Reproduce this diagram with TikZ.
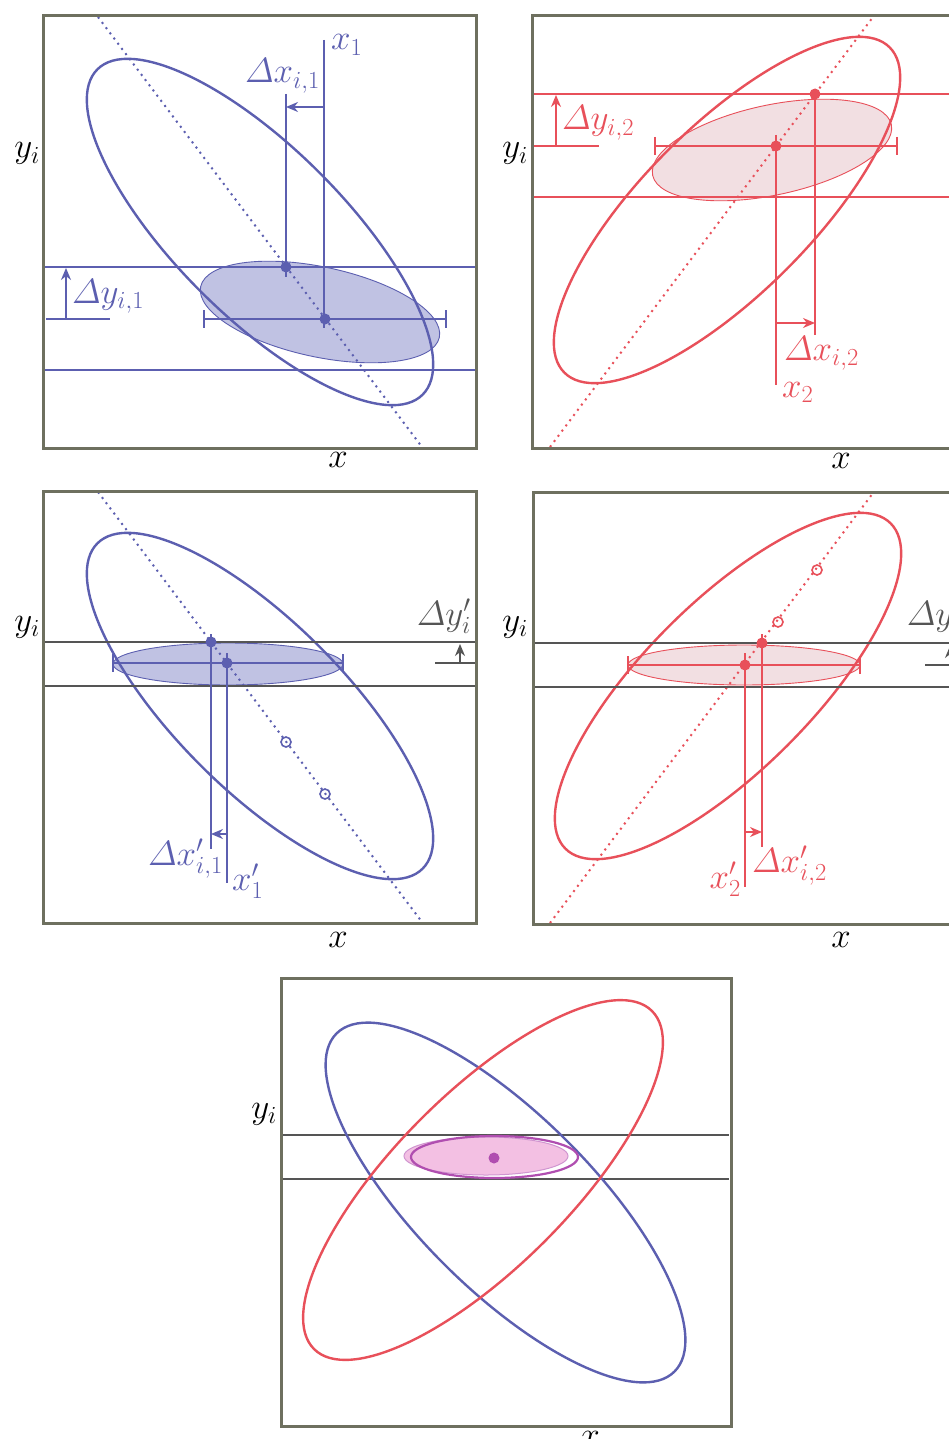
\RequirePackage{fix-cm}
\documentclass[tikz,border=0pt]{standalone}
\usepackage{amsmath}
\usetikzlibrary{arrows.meta}
\definecolor{cblue}{RGB}{92,95,176}
\definecolor{cbluefill}{RGB}{192,194,227}
\definecolor{cred}{RGB}{232,80,90}
\definecolor{credfill}{RGB}{242,223,226}
\definecolor{cframe}{RGB}{110,112,95}
\definecolor{cgrey}{RGB}{85,85,85}
\definecolor{cpurple}{RGB}{176,78,176}
\definecolor{cpurplefill}{RGB}{243,192,227}
\tikzset{
 frame/.style={draw=cframe, line width=3pt},
 bigell/.style={line width=2.4pt},
 band/.style={line width=2.2pt},
 thinline/.style={line width=1.6pt},
 dotline/.style={line width=2pt, dash pattern=on 2pt off 4.5pt},
 arr/.style={line width=1.6pt, -{Stealth[length=12pt,width=10pt]}},
 lbl/.style={inner sep=0pt, font=\fontsize{35}{42}\selectfont},
 errbar/.style={line width=2.2pt},
 smallell/.style={line width=0.9pt},
}
\begin{document}
\begin{tikzpicture}[x=1pt,y=-1pt]
\useasboundingbox (0,0) rectangle (949,1439);
\fill[white] (0,0) rectangle (949,1439);

% ================= Panel 1 (top left, blue) =================
\coordinate (c1) at (260,232);
\filldraw[fill=cbluefill, draw=cblue, smallell, rotate around={-12:(320,312)}] (320,312) ellipse [x radius=122pt, y radius=45pt];
\draw[cblue, bigell, rotate around={-45:(c1)}] (c1) ellipse [x radius=230pt, y radius=84pt];
\draw[cblue, dotline] (98,17) -- (422,447);
\draw[cblue, band] (45,267) -- (475,267);
\draw[cblue, band] (45,370) -- (475,370);
\coordinate (e1l) at (204,319); \coordinate (e1r) at (446,319);
\draw[cblue, errbar] (e1l) -- (e1r);
\draw[cblue, errbar] (204,310) -- (204,328);
\draw[cblue, errbar] (446,310) -- (446,328);
\coordinate (v1a) at (324,40); \coordinate (v1b) at (324,328);
\draw[cblue, thinline] (v1a) -- (v1b);
\coordinate (v1c) at (286,94); \coordinate (v1d) at (286,277);
\draw[cblue, thinline] (v1c) -- (v1d);
\coordinate (a1s) at (324,107); \coordinate (a1e) at (286,107);
\draw[cblue, arr] (a1s) -- (a1e);
\fill[cblue] (286,267) circle (5.5pt);
\fill[cblue] (325,319) circle (5.5pt);
\coordinate (dy1s) at (66,319); \coordinate (dy1e) at (66,268);
\draw[cblue, arr] (dy1s) -- (dy1e);
\draw[cblue, thinline] (46,319) -- (110,319);
\draw[frame] (43,16) rectangle (476,448);
\node[lbl, text=cblue, anchor=base west] (lx1) at (331,50) {$x_1$};
\node[lbl, text=cblue, anchor=base west] (ldx1) at (245,83) {$\varDelta x_{i,1}$};
\node[lbl, text=cblue, anchor=base west] (ldy1) at (72,303) {$\varDelta y_{i,1}$};
\node[lbl, anchor=base east] (ly1) at (40,158) {$y_i$};
\node[lbl, anchor=base] (lxa1) at (338,467) {$x$};

% ================= Panel 2 (top right, red) =================
\coordinate (c2) at (727,210);
\filldraw[fill=credfill, draw=cred, smallell, rotate around={12:(772,150)}] (772,150) ellipse [x radius=122pt, y radius=45pt];
\draw[cred, bigell, rotate around={45:(c2)}] (c2) ellipse [x radius=230pt, y radius=84pt];
\draw[cred, dotline] (550,447) -- (873,17);
\draw[cred, band] (534,94) -- (949,94);
\draw[cred, band] (534,197) -- (949,197);
\draw[cred, errbar] (655,146) -- (897,146);
\draw[cred, errbar] (655,137) -- (655,155);
\draw[cred, errbar] (897,137) -- (897,155);
\draw[cred, thinline] (776,135) -- (776,385);
\draw[cred, thinline] (815,90) -- (815,335);
\coordinate (a2s) at (776,323); \coordinate (a2e) at (815,323);
\draw[cred, arr] (a2s) -- (a2e);
\fill[cred] (815,94) circle (5.5pt);
\fill[cred] (776,146) circle (5.5pt);
\coordinate (dy2s) at (556,146); \coordinate (dy2e) at (556,95);
\draw[cred, arr] (dy2s) -- (dy2e);
\draw[cred, thinline] (534,146) -- (599,146);
\draw[frame] (532,16) rectangle (966,448);
\node[lbl, text=cred, anchor=base west] (ldy2) at (562,130) {$\varDelta y_{i,2}$};
\node[lbl, anchor=base east] (ly2) at (528,158) {$y_i$};
\node[lbl, text=cred, anchor=base west] (ldx2) at (784,360) {$\varDelta x_{i,2}$};
\node[lbl, text=cred, anchor=base west] (lx2) at (782,397) {$x_2$};
\node[lbl, anchor=base] (lxa2) at (841,468) {$x$};

% ================= Panel 3 (middle left, blue) =================
\coordinate (c3) at (260,706);
\filldraw[fill=cbluefill, draw=cblue, smallell] (228,664) ellipse [x radius=115pt, y radius=21pt];
\draw[cblue, bigell, rotate around={-45:(c3)}] (c3) ellipse [x radius=230pt, y radius=84pt];
\draw[cblue, dotline] (98,492) -- (422,922);
\draw[cgrey, band] (45,642) -- (475,642);
\draw[cgrey, band] (45,686) -- (475,686);
\draw[cblue, errbar] (113,663) -- (343,663);
\draw[cblue, errbar] (113,654) -- (113,672);
\draw[cblue, errbar] (343,654) -- (343,672);
\draw[cblue, thinline] (211,634) -- (211,849);
\draw[cblue, thinline] (227,653) -- (227,883);
\coordinate (a3s) at (227,834); \coordinate (a3e) at (211,834);
\draw[cblue, arr] (a3s) -- (a3e);
\fill[cblue] (211,642) circle (5.5pt);
\fill[cblue] (227,663) circle (5.5pt);
\draw[cblue, line width=1.6pt] (286,742) circle (5pt);
\draw[cblue, line width=1.6pt] (325,794) circle (5pt);
\coordinate (dy3s) at (460,663); \coordinate (dy3e) at (460,644);
\draw[cgrey, arr] (dy3s) -- (dy3e);
\draw[cgrey, thinline] (435,663) -- (476,663);
\draw[frame] (43,491) rectangle (476,923);
\node[lbl, anchor=base east] (ly3) at (40,631) {$y_i$};
\node[lbl, text=cgrey, anchor=base east] (ldy3) at (471,625) {$\varDelta y'_i$};
\node[lbl, text=cblue, anchor=base east] (ldx3) at (223,865) {$\varDelta x'_{i,1}$};
\node[lbl, text=cblue, anchor=base west] (lx3) at (232,890) {$x'_1$};
\node[lbl, anchor=base] (lxa3) at (338,947) {$x$};

% ================= Panel 4 (middle right, red) =================
\coordinate (c4) at (728,686);
\filldraw[fill=credfill, draw=cred, smallell] (744,665) ellipse [x radius=116pt, y radius=20pt];
\draw[cred, bigell, rotate around={45:(c4)}] (c4) ellipse [x radius=230pt, y radius=84pt];
\draw[cred, dotline] (550,923) -- (873,493);
\draw[cgrey, band] (535,643) -- (949,643);
\draw[cgrey, band] (535,687) -- (949,687);
\draw[cred, errbar] (628,665) -- (860,665);
\draw[cred, errbar] (628,656) -- (628,674);
\draw[cred, errbar] (860,656) -- (860,674);
\draw[cred, thinline] (745,653) -- (745,887);
\draw[cred, thinline] (762,634) -- (762,847);
\coordinate (a4s) at (745,832); \coordinate (a4e) at (762,832);
\draw[cred, arr] (a4s) -- (a4e);
\fill[cred] (745,665) circle (5.5pt);
\fill[cred] (762,643) circle (5.5pt);
\draw[cred, line width=1.6pt] (817,570) circle (5pt);
\draw[cred, line width=1.6pt] (778,622) circle (5pt);
\coordinate (dy4s) at (950,665); \coordinate (dy4e) at (950,646);
\draw[cgrey, arr] (dy4s) -- (dy4e);
\draw[cgrey, thinline] (925,665) -- (966,665);
\draw[frame] (533,492) rectangle (966,924);
\node[lbl, anchor=base east] (ly4) at (528,631) {$y_i$};
\node[lbl, text=cgrey, anchor=base east] (ldy4) at (961,625) {$\varDelta y'_i$};
\node[lbl, text=cred, anchor=base east] (lx4) at (741,888) {$x'_2$};
\node[lbl, text=cred, anchor=base west] (ldx4) at (752,872) {$\varDelta x'_{i,2}$};
\node[lbl, anchor=base] (lxa4) at (841,947) {$x$};

% ================= Panel 5 (bottom) =================
\coordinate (c5b) at (505.5,1202.5);
\coordinate (c5r) at (483,1180);
\draw[cgrey, band] (283,1135) -- (729,1135);
\draw[cgrey, band] (283,1179) -- (729,1179);
\draw[cblue, bigell, rotate around={-45:(c5b)}] (c5b) ellipse [x radius=239pt, y radius=87pt];
\draw[cred, bigell, rotate around={45:(c5r)}] (c5r) ellipse [x radius=239pt, y radius=87pt];
\filldraw[fill=cpurplefill, draw=cpurple!60, line width=1pt] (486,1156) ellipse [x radius=82pt, y radius=19pt];
\draw[cpurple, line width=2.2pt] (494.5,1157) ellipse [x radius=83.5pt, y radius=21pt];
\fill[cpurple] (494,1158) circle (5.5pt);
\draw[frame] (281,978) rectangle (731,1426);
\node[lbl, anchor=base east] (ly5) at (277,1118) {$y_i$};
\node[lbl, anchor=base] (lxa5) at (590,1446) {$x$};
\end{tikzpicture}
\end{document}
